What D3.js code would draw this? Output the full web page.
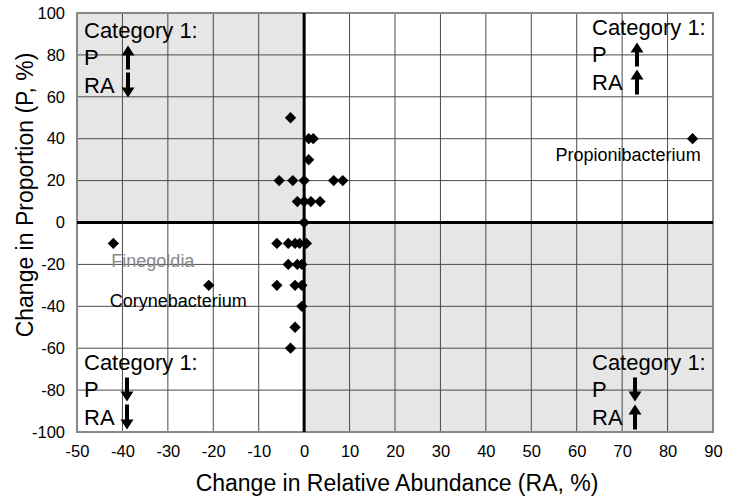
<!DOCTYPE html>
<html>
<head>
<meta charset="utf-8">
<script src="https://cdn.jsdelivr.net/npm/d3@7"></script>
<style>
  body { margin: 0; background: #fff; }
  text { font-family: "Liberation Sans", Arial, sans-serif; }
</style>
</head>
<body>
<div id="chart"></div>
<script>
// change in relative abundance (x) and change in proportion (y), both in %
const raValues = [
    -3, 1, 2, 1,
    -5.5, -2.5, 0, 6.5, 8.5,
    -1.5, 0, 1.5, 3.5,
    0,
    -6, -3.5, -2, -1, 0.5,
    -3.5, -1.5, -0.5,
    -6, -2, -0.5,
    -0.5, -2, -3,
    -42, -21, 85.5
]
const pValues = [
    50, 40, 40, 30,
    20, 20, 20, 20, 20,
    10, 10, 10, 10,
    0,
    -10, -10, -10, -10, -10,
    -20, -20, -20,
    -30, -30, -30,
    -40, -50, -60,
    -10, -30, 40
]
const xTicks = d3.range(-50, 91, 10)
const yTicks = d3.range(-100, 101, 20)

const namedPoints = [
    { name: 'Propionibacterium', ra: 85.5, p: 40 },
    { name: 'Finegoldia', ra: -42, p: -10 },
    { name: 'Corynebacterium', ra: -21, p: -30 }
]
// P arrow, RA arrow for each quadrant
const quadrants = [
    { corner: 'tl', p: 'up', ra: 'down' },
    { corner: 'tr', p: 'up', ra: 'up' },
    { corner: 'bl', p: 'down', ra: 'down' },
    { corner: 'br', p: 'down', ra: 'up' }
]

const cfg = {
    w: 737,
    h: 496,
    margin: { top: 13, right: 24, bottom: 64, left: 77 }
}

const svg = d3.select('#chart')
    .append('svg')
    .attr('width', cfg.w)
    .attr('height', cfg.h)

const width = cfg.w - cfg.margin.left - cfg.margin.right
const height = cfg.h - cfg.margin.top - cfg.margin.bottom

const g = svg.append('g')
    .attr('transform', `translate(${cfg.margin.left}, ${cfg.margin.top})`)

const x = d3.scaleLinear().domain([-50, 90]).range([0, width])
const y = d3.scaleLinear().domain([-100, 100]).range([height, 0])

// shaded quadrants
g.append('rect')
    .attr('x', x(-50)).attr('y', y(100))
    .attr('width', x(0) - x(-50)).attr('height', y(0) - y(100))
    .attr('fill', '#e6e6e6')
g.append('rect')
    .attr('x', x(0)).attr('y', y(0))
    .attr('width', x(90) - x(0)).attr('height', y(-100) - y(0))
    .attr('fill', '#e6e6e6')

// grid
g.append('g')
    .selectAll('line')
    .data(xTicks).enter()
    .append('line')
    .attr('x1', d => x(d)).attr('x2', d => x(d))
    .attr('y1', 0).attr('y2', height)
    .attr('stroke', '#4a4a4a')
    .attr('stroke-width', 1)
g.append('g')
    .selectAll('line')
    .data(yTicks).enter()
    .append('line')
    .attr('y1', d => y(d)).attr('y2', d => y(d))
    .attr('x1', 0).attr('x2', width)
    .attr('stroke', '#4a4a4a')
    .attr('stroke-width', 1)

// plot border
g.append('rect')
    .attr('width', width).attr('height', height)
    .attr('fill', 'none')
    .attr('stroke', '#888')
    .attr('stroke-width', 2)

// zero axes
g.append('line')
    .attr('x1', x(0)).attr('x2', x(0)).attr('y1', 0).attr('y2', height)
    .attr('stroke', '#000').attr('stroke-width', 3)
g.append('line')
    .attr('y1', y(0)).attr('y2', y(0)).attr('x1', 0).attr('x2', width)
    .attr('stroke', '#000').attr('stroke-width', 3)

// axes labels
const xAxis = g.append('g')
    .attr('transform', `translate(0, ${height + 7})`)
    .call(d3.axisBottom(x).tickValues(xTicks).tickSize(0).tickPadding(6).tickFormat(d => String(d)))
xAxis.select('.domain').remove()
xAxis.selectAll('text').attr('font-size', 16.5).attr('fill', '#000')

const yAxis = g.append('g')
    .attr('transform', 'translate(-10, 0)')
    .call(d3.axisLeft(y).tickValues(yTicks).tickSize(0).tickPadding(2).tickFormat(d => String(d)))
yAxis.select('.domain').remove()
yAxis.selectAll('text').attr('font-size', 16.5).attr('fill', '#000')

svg.append('text')
    .attr('x', 397).attr('y', 491)
    .attr('text-anchor', 'middle')
    .attr('font-size', 23)
    .text('Change in Relative Abundance (RA, %)')

svg.append('text')
    .attr('transform', 'translate(33, 195) rotate(-90)')
    .attr('text-anchor', 'middle')
    .attr('font-size', 23)
    .text('Change in Proportion (P, %)')

// points
const points = raValues.map((v, i) => ({ ra: v, p: pValues[i] }))
const diamond = d3.symbol().type(d3.symbolSquare).size(64)
g.selectAll('.pt')
    .data(points).enter()
    .append('path')
    .attr('class', 'pt')
    .attr('d', diamond)
    .attr('transform', d => `translate(${x(d.ra)}, ${y(d.p)}) rotate(45)`)
    .attr('fill', '#000')

// point names
const nameStyle = {
    Propionibacterium: { dx: -137, dy: 22, color: '#000' },
    Finegoldia: { dx: -2, dy: 24, color: '#888' },
    Corynebacterium: { dx: -99, dy: 22, color: '#000' }
}
g.selectAll('.name')
    .data(namedPoints).enter()
    .append('text')
    .attr('class', 'name')
    .attr('x', d => x(d.ra) + nameStyle[d.name].dx)
    .attr('y', d => y(d.p) + nameStyle[d.name].dy)
    .attr('font-size', 18)
    .attr('fill', d => nameStyle[d.name].color)
    .text(d => d.name)

// quadrant category labels
const quadPos = {
    tl: { x: 84, y: 37.5, ax: 128 },
    tr: { x: 592, y: 34.5, ax: 637 },
    bl: { x: 84, y: 369.5, ax: 127 },
    br: { x: 592, y: 369.5, ax: 635 }
}

function arrow(sel, cx, yTop, yBot, dir) {
    const head = 10
    const hw = 6.5
    const tip = dir === 'up' ? yTop : yBot
    const s = dir === 'up' ? 1 : -1
    sel.append('line')
        .attr('x1', cx).attr('x2', cx)
        .attr('y1', dir === 'up' ? yTop + head - 1 : yTop)
        .attr('y2', dir === 'up' ? yBot : yBot - head + 1)
        .attr('stroke', '#000').attr('stroke-width', 4)
    sel.append('path')
        .attr('d', `M${cx},${tip} L${cx - hw},${tip + s * head} L${cx + hw},${tip + s * head} Z`)
        .attr('fill', '#000')
}

quadrants.forEach(q => {
    const pos = quadPos[q.corner]
    const lg = svg.append('g')
    lg.append('text')
        .attr('x', pos.x).attr('y', pos.y)
        .attr('font-size', 22)
        .text('Category 1:')
    lg.append('text')
        .attr('x', pos.x).attr('y', pos.y + 27)
        .attr('font-size', 22)
        .text('P')
    lg.append('text')
        .attr('x', pos.x).attr('y', pos.y + 55)
        .attr('font-size', 22)
        .text('RA')
    arrow(lg, pos.ax, pos.y + 8, pos.y + 32, q.p)
    arrow(lg, pos.ax, pos.y + 35, pos.y + 60, q.ra)
})
</script>
</body>
</html>
